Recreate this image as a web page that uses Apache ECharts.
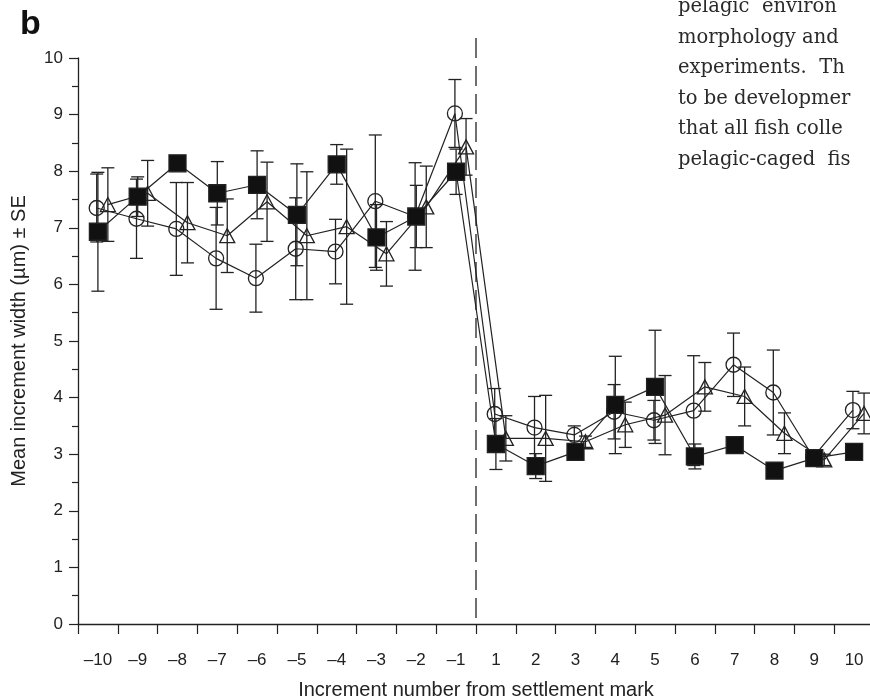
<!DOCTYPE html>
<html>
<head>
<meta charset="utf-8">
<script src="https://cdn.jsdelivr.net/npm/echarts@6/dist/echarts.min.js"></script>
<style>
html,body{margin:0;padding:0;background:#fff;}
#chart{width:870px;height:700px;}
</style>
</head>
<body>
<div id="chart"></div>
<script>
// ---- data ----
const categories = [-10,-9,-8,-7,-6,-5,-4,-3,-2,-1,1,2,3,4,5,6,7,8,9,10];

const squareMean = [6.93,7.55,8.14,7.61,7.76,7.23,8.12,6.83,7.20,7.99, 3.18,2.79,3.04,3.87,4.19,2.96,3.16,2.71,2.93,3.04];
const squareSE   = [1.05,0.35,0.10,0.56,0.60,0.90,0.35,0.58,0.55,0.40, 0.45,0.22,0.10,0.86,1.00,0.22,0.10,0.10,0.10,0.10];

const circleMean = [7.35,7.16,6.98,6.46,6.11,6.63,6.58,7.47,7.20,9.02, 3.71,3.47,3.34,3.75,3.60,3.77,4.58,4.09,2.95,3.78];
const circleSE   = [0.60,0.70,0.82,0.90,0.60,0.90,0.57,1.17,0.95,0.60, 0.45,0.55,0.16,0.48,0.35,0.97,0.56,0.75,0.10,0.33];

const triangleMean = [7.41,7.61,7.09,6.86,7.46,6.86,7.02,6.54,7.37,8.43, 3.28,3.28,3.22,3.52,3.69,4.19,4.02,3.37,2.90,3.72];
const triangleSE   = [0.65,0.58,0.71,0.65,0.70,1.13,1.37,0.57,0.72,0.50, 0.40,0.76,0.10,0.40,0.70,0.43,0.52,0.36,0.10,0.36];

const yMin = 0, yMax = 10, yInterval = 1;
const settlementIndex = 10; // boundary between -1 and 1

const sideText = [
  'pelagic  environ',
  'morphology and',
  'experiments.  Th',
  'to be developmer',
  'that all fish colle',
  'pelagic-caged  fis'
];

// ---- helpers ----
const INK = '#222';
const nCat = categories.length;

function pts(mean, offset) {
  return mean.map((m, i) => [i + 0.5 + offset, m]);
}
function errData(mean, se, offset) {
  return mean.map((m, i) => [i + 0.5 + offset, m - se[i], m + se[i]]);
}
function errorSeries(mean, se, offset) {
  return {
    type: 'custom',
    xAxisIndex: 1, yAxisIndex: 0,
    data: errData(mean, se, offset),
    encode: { x: 0, y: [1, 2] },
    z: 1,
    silent: true,
    clip: false,
    renderItem: function (params, api) {
      const x = api.value(0);
      const lo = api.coord([x, api.value(1)]);
      const hi = api.coord([x, api.value(2)]);
      const w = 6.5;
      const st = { stroke: INK, lineWidth: 1.3, fill: null };
      return {
        type: 'group',
        children: [
          { type: 'line', shape: { x1: lo[0], y1: lo[1], x2: hi[0], y2: hi[1] }, style: st },
          { type: 'line', shape: { x1: lo[0] - w, y1: lo[1], x2: lo[0] + w, y2: lo[1] }, style: st },
          { type: 'line', shape: { x1: hi[0] - w, y1: hi[1], x2: hi[0] + w, y2: hi[1] }, style: st }
        ]
      };
    }
  };
}
function lineSeries(mean, offset, symbol, size, fill, z) {
  return {
    type: 'line',
    xAxisIndex: 1, yAxisIndex: 0,
    data: pts(mean, offset),
    symbol: symbol,
    symbolSize: size,
    showAllSymbol: true,
    clip: false,
    z: z,
    lineStyle: { color: INK, width: 1.2 },
    itemStyle: { color: fill, borderColor: INK, borderWidth: 1.3, opacity: 1 },
    emphasis: { disabled: true }
  };
}

const chart = echarts.init(document.getElementById('chart'), null, { renderer: 'canvas' });

const gridLeft = 78, gridWidth = 796, gridTop = 58, gridHeight = 566;

const option = {
  animation: false,
  backgroundColor: '#fff',
  grid: [
    { left: gridLeft, top: gridTop, width: gridWidth, height: gridHeight, containLabel: false, outerBoundsMode: 'none' },
    { left: gridLeft, top: 38, width: gridWidth, height: gridHeight + 20, containLabel: false, outerBoundsMode: 'none' }
  ],
  xAxis: [
    {
      type: 'category', gridIndex: 0, data: categories, boundaryGap: true,
      axisLine: { show: true, lineStyle: { color: INK, width: 1.3 } },
      axisTick: { show: true, inside: false, length: 10, lineStyle: { color: INK, width: 1.2 } },
      axisLabel: {
        margin: 28, fontSize: 17, color: INK, fontFamily: 'Liberation Sans, Arial, sans-serif',
        formatter: v => String(v).replace('-', '\u2013')
      },
      name: 'Increment number from settlement mark',
      nameLocation: 'middle', nameGap: 56,
      nameTextStyle: { fontSize: 20, color: INK, fontFamily: 'Liberation Sans, Arial, sans-serif' },
      splitLine: { show: false }
    },
    { type: 'value', gridIndex: 0, min: 0, max: nCat, show: false },
    { type: 'value', gridIndex: 1, min: 0, max: nCat, show: false }
  ],
  yAxis: [
    {
      type: 'value', gridIndex: 0, min: yMin, max: yMax, interval: yInterval,
      axisLine: { show: true, lineStyle: { color: INK, width: 1.3 } },
      axisTick: { show: true, inside: false, length: 9, lineStyle: { color: INK, width: 1.2 } },
      minorTick: { show: true, splitNumber: 2, length: 6, lineStyle: { color: INK, width: 1.2 } },
      axisLabel: { margin: 15, fontSize: 17, color: INK, fontFamily: 'Liberation Sans, Arial, sans-serif' },
      splitLine: { show: false },
      name: 'Mean increment width (\u00b5m) \u00b1 SE',
      nameLocation: 'middle', nameGap: 49, nameRotate: 90,
      nameTextStyle: { fontSize: 20, color: INK, fontFamily: 'Liberation Sans, Arial, sans-serif' }
    },
    { type: 'value', gridIndex: 1, min: 0, max: 1, show: false }
  ],
  series: [
    {
      type: 'line', xAxisIndex: 2, yAxisIndex: 1,
      data: [[settlementIndex, 1], [settlementIndex, 0]],
      symbol: 'none', z: 0, silent: true,
      lineStyle: { color: INK, width: 1.3, type: [20, 8] }
    },
    errorSeries(squareMean, squareSE, 0),
    errorSeries(circleMean, circleSE, -0.03),
    errorSeries(triangleMean, triangleSE, 0.25),
    lineSeries(circleMean, -0.03, 'circle', 15, 'rgba(0,0,0,0)', 3),
    lineSeries(triangleMean, 0.25, 'triangle', [15, 14], 'rgba(0,0,0,0)', 4),
    lineSeries(squareMean, 0, 'rect', 17, '#111', 5)
  ],
  graphic: [
    {
      type: 'text', left: 20, top: 8, z: 10,
      style: { text: 'b', font: 'bold 34px "Liberation Sans", Arial, sans-serif', fill: '#111' }
    }
  ].concat(sideText.map((t, i) => ({
    type: 'text', z: 10,
    x: 678, y: 7 + i * 30.6,
    style: {
      text: t, font: '19.5px "DejaVu Serif", serif', fill: '#2a2a2a',
      verticalAlign: 'middle', align: 'left'
    }
  })))
};

chart.setOption(option);
</script>
</body>
</html>
